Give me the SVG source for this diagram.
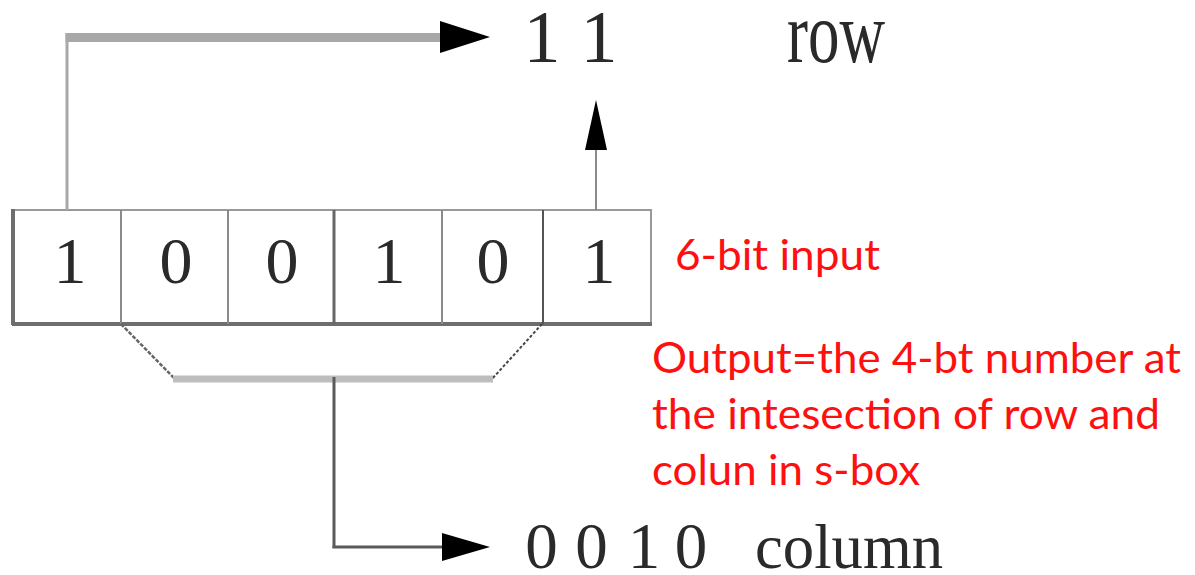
<svg xmlns="http://www.w3.org/2000/svg" width="1195" height="575" viewBox="0 0 1195 575">
  <style>
    .serif { font-family: "Liberation Serif", "Times New Roman", serif; fill: #2a2a2a; }
    .red { font-family: Lato, "Noto Sans", "Liberation Sans", sans-serif; fill: #ff1010; font-size: 42px; }
    .cellline { stroke: #8a8a8a; stroke-width: 2; fill: none; }
    .head { fill: #000; }
  </style>
  <rect width="1195" height="575" fill="#ffffff"/>

  <g id="input-box">
    <rect x="13" y="210" width="638" height="114" fill="#fff" stroke="#999" stroke-width="2"/>
    <line x1="13" y1="209" x2="13" y2="325" stroke="#6e6e6e" stroke-width="4"/>
    <line x1="12" y1="324" x2="652" y2="324" stroke="#6e6e6e" stroke-width="4"/>
    <line class="cellline" x1="121" y1="210" x2="121" y2="324"/>
    <line class="cellline" x1="228" y1="210" x2="228" y2="324" stroke="#777"/>
    <line x1="334" y1="210" x2="334" y2="324" stroke="#666" stroke-width="3"/>
    <line class="cellline" x1="442" y1="210" x2="442" y2="324"/>
    <line x1="543" y1="210" x2="543" y2="324" stroke="#555" stroke-width="2"/>
    <g class="serif" font-size="66" text-anchor="middle">
      <text x="70" y="283">1</text>
      <text x="176" y="283">0</text>
      <text x="282" y="283">0</text>
      <text x="389" y="283">1</text>
      <text x="493" y="283">0</text>
      <text x="599" y="283">1</text>
    </g>
  </g>

  <g id="row-output">
    <g class="serif" font-size="74" text-anchor="middle">
      <text x="542" y="62">1</text>
      <text x="599" y="62">1</text>
    </g>
    <text class="serif" x="787" y="62" font-size="86" textLength="98" lengthAdjust="spacingAndGlyphs">row</text>
  </g>

  <g id="column-output">
    <g class="serif" font-size="65" text-anchor="middle">
      <text x="541.5" y="568">0</text>
      <text x="591.5" y="568">0</text>
      <text x="644" y="568">1</text>
      <text x="691" y="568">0</text>
    </g>
    <text class="serif" x="755" y="568" font-size="64" textLength="188" lengthAdjust="spacingAndGlyphs">column</text>
  </g>

  <g id="labels">
    <text class="red" x="675" y="270" textLength="205" lengthAdjust="spacingAndGlyphs">6-bit input</text>
    <text class="red" x="652" y="373" textLength="529" lengthAdjust="spacingAndGlyphs">Output=the 4-bt number at</text>
    <text class="red" x="652" y="429" textLength="508" lengthAdjust="spacingAndGlyphs">the intesection of row and</text>
    <text class="red" x="652" y="485" textLength="268" lengthAdjust="spacingAndGlyphs">colun in s-box</text>
  </g>

  <g id="connectors">
    <!-- first bit to row -->
    <line x1="67" y1="210" x2="67" y2="33" stroke="#a8a8a8" stroke-width="3"/>
    <line x1="65.5" y1="37.5" x2="445" y2="37.5" stroke="#a8a8a8" stroke-width="9"/>
    <polygon class="head" points="440,21 490,37 440,53"/>
    <!-- last bit to row -->
    <line x1="596" y1="210" x2="596" y2="148" stroke="#8a8a8a" stroke-width="2"/>
    <polygon class="head" points="596,100 607,150 585,150"/>
    <!-- middle bits bracket -->
    <line x1="121" y1="324" x2="174" y2="378" stroke="#666" stroke-width="2.5" stroke-dasharray="4 1.5"/>
    <line x1="542" y1="324" x2="492" y2="379" stroke="#444" stroke-width="2" stroke-dasharray="3 2"/>
    <line x1="173" y1="379" x2="493" y2="379" stroke="#bdbdbd" stroke-width="7"/>
    <!-- to column -->
    <line x1="334" y1="377" x2="334" y2="548" stroke="#5a5a5a" stroke-width="3"/>
    <line x1="332.5" y1="547" x2="446" y2="547" stroke="#5a5a5a" stroke-width="3"/>
    <polygon class="head" points="442,533 490,547 442,561"/>
  </g>
</svg>
